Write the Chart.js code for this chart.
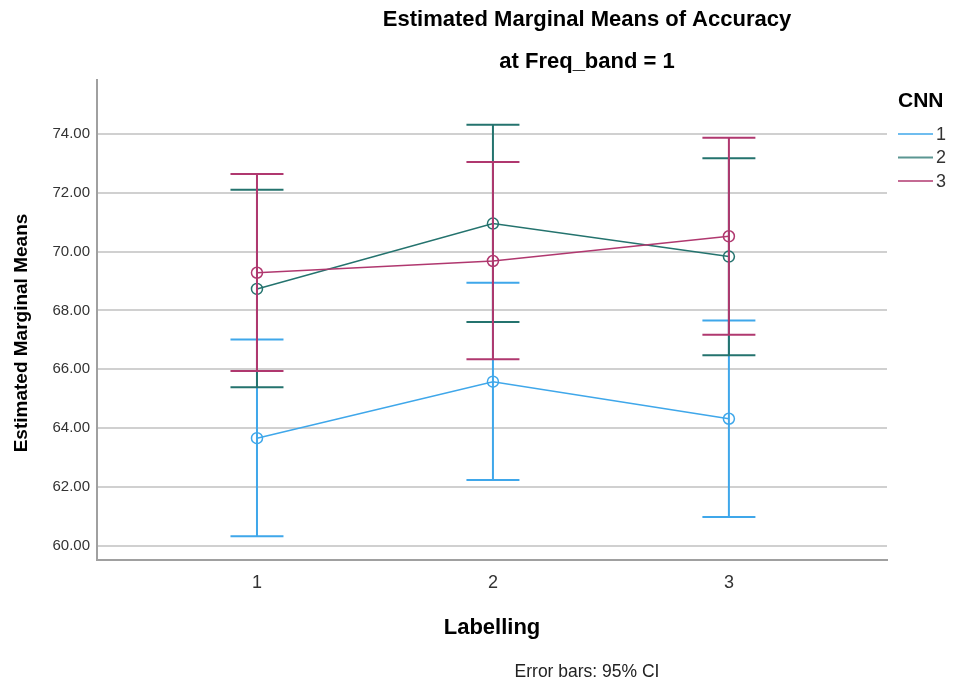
<!DOCTYPE html>
<html>
<head>
<meta charset="utf-8">
<script src="https://cdn.jsdelivr.net/npm/chart.js@4"></script>
<style>
  html, body { margin: 0; padding: 0; background: #fff; }
  #wrap { width: 953px; height: 683px; }
</style>
</head>
<body>
<div id="wrap"><canvas id="chart" width="953" height="683"></canvas></div>
<script>
// Labelling levels on the x axis
const labellingLevels = [1, 2, 3];
const yTickValues = [60, 62, 64, 66, 68, 70, 72, 74];

// CNN groups
const cnnNames = ['1', '2', '3'];
const cnnColors = ['#3fa7ea', '#24736e', '#b0386f'];

// estimated marginal means, per CNN
const meansCnn1 = [63.66, 65.58, 64.32];
const meansCnn2 = [68.73, 70.95, 69.83];
const meansCnn3 = [69.28, 69.68, 70.52];

// 95% CI bounds
const lowerCnn1 = [60.33, 62.24, 60.98];
const upperCnn1 = [67.01, 68.94, 67.66];
const lowerCnn2 = [65.39, 67.61, 66.48];
const upperCnn2 = [72.10, 74.31, 73.17];
const lowerCnn3 = [65.94, 66.34, 67.17];
const upperCnn3 = [72.64, 73.04, 73.87];

const allMeans = [meansCnn1, meansCnn2, meansCnn3];
const allLower = [lowerCnn1, lowerCnn2, lowerCnn3];
const allUpper = [upperCnn1, upperCnn2, upperCnn3];

const FONT = '"Liberation Sans", Arial, sans-serif';

const datasets = allMeans.map((means, i) => ({
    label: cnnNames[i],
    data: means.map((v, j) => ({ x: labellingLevels[j], y: v })),
    lower: allLower[i],
    upper: allUpper[i],
    borderColor: cnnColors[i],
    backgroundColor: 'rgba(0,0,0,0)',
    borderWidth: 1.5,
    pointRadius: 5.5,
    pointBorderWidth: 1.5,
    pointStyle: 'circle',
    tension: 0,
    order: 3 - i   // CNN 3 ends up on top
}));

// draw each series' CI bars right before its line
const errorBars = {
    id: 'errorBars',
    beforeDatasetDraw(chart, args) {
        const ds = chart.data.datasets[args.index];
        const xs = chart.scales.x, ys = chart.scales.y;
        const ctx = chart.ctx;
        ctx.save();
        ctx.strokeStyle = ds.borderColor;
        ctx.lineWidth = 2;
        ds.data.forEach((p, j) => {
            const px = xs.getPixelForValue(p.x);
            const top = ys.getPixelForValue(ds.upper[j]);
            const bot = ys.getPixelForValue(ds.lower[j]);
            ctx.beginPath();
            ctx.moveTo(px, top);
            ctx.lineTo(px, bot);
            ctx.moveTo(px - 26.5, top);
            ctx.lineTo(px + 26.5, top);
            ctx.moveTo(px - 26.5, bot);
            ctx.lineTo(px + 26.5, bot);
            ctx.stroke();
        });
        ctx.restore();
    }
};

// titles, axis titles, legend and footnote, SPSS style
const decorations = {
    id: 'decorations',
    afterDraw(chart) {
        const ctx = chart.ctx;
        const area = chart.chartArea;
        ctx.save();
        ctx.fillStyle = '#000';
        ctx.textAlign = 'center';
        ctx.textBaseline = 'middle';

        ctx.font = 'bold 22px ' + FONT;
        ctx.fillText('Estimated Marginal Means of Accuracy', 587, 20);
        ctx.fillText('at Freq_band = 1', 587, 62);

        ctx.font = 'bold 22px ' + FONT;
        ctx.fillText('Labelling', (area.left + area.right) / 2, 628);

        ctx.save();
        ctx.translate(22, 333);
        ctx.rotate(-Math.PI / 2);
        ctx.font = 'bold 19px ' + FONT;
        ctx.fillText('Estimated Marginal Means', 0, 0);
        ctx.restore();

        ctx.font = '17.5px ' + FONT;
        ctx.fillStyle = '#222';
        ctx.fillText('Error bars: 95% CI', 587, 672);

        // legend
        ctx.fillStyle = '#000';
        ctx.font = 'bold 21px ' + FONT;
        ctx.textAlign = 'left';
        ctx.fillText('CNN', 898, 101);
        ctx.font = '18px ' + FONT;
        cnnNames.forEach((name, i) => {
            const y = 134 + i * 23.5;
            ctx.strokeStyle = cnnColors[i];
            ctx.lineWidth = 2;
            ctx.globalAlpha = 0.75;
            ctx.beginPath();
            ctx.moveTo(898, y);
            ctx.lineTo(933, y);
            ctx.stroke();
            ctx.globalAlpha = 1;
            ctx.fillStyle = '#333';
            ctx.fillText(name, 936, y + 1);
        });
        ctx.restore();
    }
};

new Chart(document.getElementById('chart'), {
    type: 'line',
    data: { datasets },
    options: {
        responsive: false,
        animation: false,
        layout: { padding: { left: 0, top: 80, right: 66, bottom: 0 } },
        plugins: {
            legend: { display: false },
            title: { display: false },
            tooltip: { enabled: false }
        },
        scales: {
            x: {
                type: 'linear',
                min: 0.322,
                max: 3.67,
                afterBuildTicks: s => { s.ticks = labellingLevels.map(v => ({ value: v })); },
                afterFit: s => { s.height = 123; },
                grid: { display: false, drawTicks: false },
                border: { display: true, color: '#a0a0a0', width: 2 },
                ticks: {
                    padding: 12,
                    color: '#333',
                    font: { family: FONT, size: 18 },
                    callback: v => String(v)
                }
            },
            y: {
                min: 59.52,
                max: 75.83,
                afterBuildTicks: s => { s.ticks = yTickValues.map(v => ({ value: v })); },
                afterFit: s => { s.width = 97; },
                grid: { color: '#d0d0d0', lineWidth: 2, drawTicks: false },
                border: { display: true, color: '#a0a0a0', width: 2 },
                ticks: {
                    padding: 7,
                    color: '#333',
                    font: { family: FONT, size: 15 },
                    callback: v => v.toFixed(2)
                }
            }
        }
    },
    plugins: [errorBars, decorations]
});
</script>
</body>
</html>
